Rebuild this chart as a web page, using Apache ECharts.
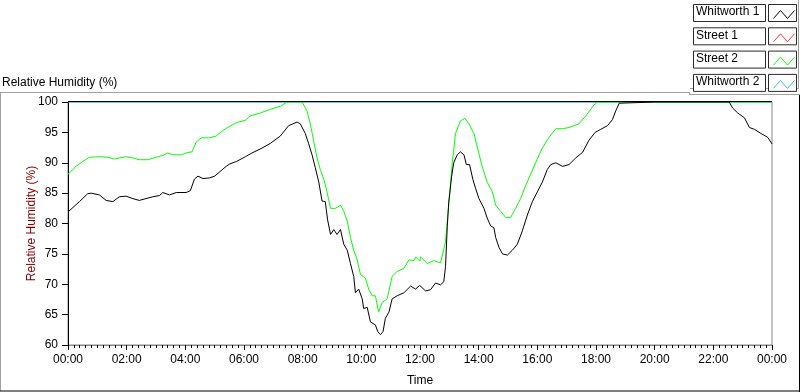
<!DOCTYPE html>
<html><head><meta charset="utf-8">
<script src="https://cdn.jsdelivr.net/npm/echarts@6/dist/echarts.min.js"></script>
<style>html,body{margin:0;padding:0;background:#fff}#c{width:800px;height:392px}</style>
</head><body><div id="c"></div>
<script>
// ---- data (time in hours, relative humidity %) ----
const seriesNames = ['Whitworth 1', 'Street 1', 'Street 2', 'Whitworth 2'];
const seriesColors = ['#000000', '#ff3a3a', '#00ff00', '#3cb8ff'];
const xTickLabels = ['00:00','02:00','04:00','06:00','08:00','10:00','12:00','14:00','16:00','18:00','20:00','22:00','00:00'];
const yTickValues = [60, 65, 70, 75, 80, 85, 90, 95, 100];

const whitworth1 = [
  [0,81.9],[0.04,82.2],[0.39,83.6],[0.67,84.9],[0.79,85.0],[1.07,84.7],[1.30,83.8],[1.53,83.6],[1.75,84.4],[1.98,84.5],
  [2.21,84.1],[2.43,83.8],[2.66,84.1],[2.89,84.4],[3.12,84.6],[3.23,85.1],[3.46,84.7],[3.69,85.1],[4.03,85.1],[4.17,85.4],
  [4.31,87.3],[4.43,87.8],[4.60,87.4],[4.82,87.5],[5.00,87.8],[5.17,88.5],[5.39,89.4],[5.51,89.8],[5.74,90.2],[6.05,91.0],
  [6.27,91.6],[6.61,92.4],[6.90,93.2],[7.24,94.4],[7.52,96.1],[7.81,96.7],[7.92,96.4],[8.09,94.8],[8.20,93.2],[8.32,91.3],
  [8.43,89.2],[8.55,86.8],[8.66,83.7],[8.77,83.6],[8.85,80.6],[8.95,78.2],[9.06,79.0],[9.17,78.2],[9.29,79.0],[9.40,76.6],
  [9.52,75.6],[9.63,73.4],[9.74,71.3],[9.80,68.6],[9.91,69.2],[10.03,67.6],[10.08,66.0],[10.20,66.2],[10.31,63.8],[10.48,63.3],
  [10.56,62.2],[10.65,61.7],[10.74,62.2],[10.82,64.4],[10.94,65.4],[11.05,67.6],[11.22,68.1],[11.45,68.6],[11.68,69.7],[11.85,69.2],
  [11.99,69.8],[12.19,68.9],[12.36,69.1],[12.53,70.2],[12.70,69.9],[12.81,70.4],[12.87,72.9],[12.93,79.5],[12.98,83.5],[13.08,87.8],
  [13.15,90.0],[13.27,91.3],[13.38,91.8],[13.50,91.3],[13.58,89.7],[13.69,89.7],[13.80,87.3],[13.90,85.7],[14.01,84.1],[14.18,82.5],
  [14.29,80.9],[14.41,79.6],[14.52,79.3],[14.58,77.7],[14.69,76.1],[14.81,75.0],[14.98,74.8],[15.15,75.6],[15.32,76.6],[15.49,78.8],
  [15.66,81.4],[15.83,83.6],[16.00,85.2],[16.17,86.8],[16.34,88.9],[16.46,89.7],[16.63,90.0],[16.86,89.4],[17.08,89.7],[17.31,90.8],
  [17.54,91.7],[17.76,93.7],[17.97,95.0],[18.16,95.5],[18.39,96.1],[18.56,97.1],[18.67,98.5],[18.79,99.8],[18.85,100],[20,100],
  [21,100],[22,100],[22.54,100],[22.66,99.0],[22.83,98.2],[23.06,97.4],[23.23,95.8],[23.40,95.5],[23.63,94.8],[23.85,94.2],[24,93.1]
];
const street1 = [];
const street2 = [
  [0,88.1],[0.27,89.4],[0.50,90.2],[0.73,90.9],[1.07,91.0],[1.36,90.9],[1.58,90.6],[1.75,90.8],[1.98,91.0],[2.21,90.8],
  [2.43,90.5],[2.72,90.5],[3.00,90.9],[3.23,91.2],[3.40,91.6],[3.57,91.3],[3.86,91.3],[4.09,91.7],[4.23,91.8],[4.37,93.4],
  [4.54,94.1],[4.82,94.1],[5.05,94.4],[5.28,95.3],[5.51,96.0],[5.74,96.6],[6.05,97.0],[6.21,97.7],[6.56,98.2],[6.90,98.8],
  [7.24,99.3],[7.47,100],[7.98,100],[8.15,98.5],[8.26,96.4],[8.37,93.7],[8.49,90.8],[8.60,88.9],[8.72,87.3],[8.83,85.2],
  [8.95,82.5],[9.12,82.5],[9.29,83.0],[9.40,82.0],[9.52,80.4],[9.63,77.7],[9.74,75.6],[9.86,74.0],[9.97,71.6],[10.14,71.0],
  [10.25,69.2],[10.37,68.1],[10.48,68.1],[10.59,65.4],[10.71,67.0],[10.88,67.6],[11.05,71.3],[11.22,72.1],[11.45,72.6],[11.62,74.0],
  [11.79,73.9],[11.86,74.5],[11.99,73.8],[12.02,74.5],[12.25,73.4],[12.47,73.9],[12.70,73.5],[12.76,73.7],[12.87,77.0],[12.98,83.1],
  [13.10,90.0],[13.21,94.8],[13.38,96.9],[13.53,97.3],[13.67,96.4],[13.84,94.8],[13.95,92.6],[14.12,89.4],[14.29,86.8],[14.47,85.2],
  [14.58,83.0],[14.75,82.0],[14.92,81.0],[15.09,81.0],[15.26,82.5],[15.43,84.1],[15.60,86.2],[15.77,88.1],[15.94,90.0],[16.17,92.4],
  [16.40,94.2],[16.63,95.6],[16.86,95.6],[17.08,95.8],[17.42,96.4],[17.65,97.7],[17.93,99.5],[18.05,100],[21,100],[24,100]
];
const whitworth2 = [[0,100],[12,100],[24,100]];
const seriesData = [whitworth1, street1, street2, whitworth2];

// ---- chart ----
const FONT = 'Liberation Sans';
const drawOrder = [1, 3, 2, 0]; // blue under green under black
const series = drawOrder.map(i => ({
  name: seriesNames[i],
  type: 'line',
  data: seriesData[i],
  showSymbol: false,
  symbol: 'none',
  smooth: false,
  animation: false,
  lineStyle: { color: seriesColors[i], width: 1 },
  itemStyle: { color: seriesColors[i] },
  z: 2 + drawOrder.indexOf(i)
}));

// legend drawn as boxes: text box + line-sample box
const legendGraphics = [];
seriesNames.forEach((name, i) => {
  const top = 4 + i * 23.3;
  legendGraphics.push({
    type: 'rect', left: 693, top: top,
    shape: { width: 72, height: 17 },
    style: { fill: '#fff', stroke: '#2b2b2b', lineWidth: 1 }, silent: true
  });
  legendGraphics.push({
    type: 'text', left: 696, top: top + 2,
    style: { text: name, fill: '#000', font: '12px "' + FONT + '"' }, silent: true
  });
  legendGraphics.push({
    type: 'rect', left: 768, top: top,
    shape: { width: 28, height: 17 },
    style: { fill: '#fff', stroke: '#2b2b2b', lineWidth: 1 }, silent: true
  });
  legendGraphics.push({
    type: 'polyline', left: 771, top: top + 4,
    shape: { points: [[0, 9], [7, 1], [14, 9], [21, 1]] },
    style: { stroke: seriesColors[i], lineWidth: 1, fill: null }, silent: true
  });
});

const frame = [
  { type: 'line', shape: { x1: 0, y1: 92.5, x2: 690, y2: 92.5 }, style: { stroke: '#a0a0a0', lineWidth: 1 }, silent: true },
  { type: 'line', shape: { x1: 689.5, y1: 92.5, x2: 689.5, y2: 95 }, style: { stroke: '#a0a0a0', lineWidth: 1 }, silent: true },
  { type: 'line', shape: { x1: 690, y1: 94.5, x2: 800, y2: 94.5 }, style: { stroke: '#a0a0a0', lineWidth: 1 }, silent: true },
  { type: 'line', shape: { x1: 690, y1: 88.5, x2: 799, y2: 88.5 }, style: { stroke: '#a0a0a0', lineWidth: 1 }, silent: true },
  { type: 'line', shape: { x1: 798.5, y1: 0, x2: 798.5, y2: 89 }, style: { stroke: '#a0a0a0', lineWidth: 1 }, silent: true },
  { type: 'line', shape: { x1: 0.5, y1: 93, x2: 0.5, y2: 391 }, style: { stroke: '#a0a0a0', lineWidth: 1 }, silent: true },
  { type: 'line', shape: { x1: 0, y1: 391, x2: 800, y2: 391 }, style: { stroke: '#000', lineWidth: 1 }, silent: true },
  { type: 'line', shape: { x1: 799.5, y1: 95, x2: 799.5, y2: 392 }, style: { stroke: '#000', lineWidth: 1 }, silent: true },
  { type: 'line', shape: { x1: 68, y1: 101.5, x2: 772, y2: 101.5 }, style: { stroke: '#000', lineWidth: 1 }, silent: true, z: 10 },
  { type: 'text', left: 2, top: 77, style: { text: 'Relative Humidity (%)', fill: '#000', font: '12px "' + FONT + '"' }, silent: true }
];

const chart = echarts.init(document.getElementById('c'), null, { renderer: 'canvas' });
chart.setOption({
  backgroundColor: '#fff',
  animation: false,
  textStyle: { fontFamily: FONT },
  grid: { left: 68, right: 28, top: 102, bottom: 40, show: true, borderColor: '#888', borderWidth: 1, backgroundColor: '#fff' },
  xAxis: {
    type: 'value', min: 0, max: 24, interval: 2,
    name: 'Time', nameLocation: 'middle', nameGap: 30, nameMoveOverlap: false,
    nameTextStyle: { color: '#000', fontSize: 12, fontFamily: FONT },
    axisLine: { show: true, lineStyle: { color: '#888', width: 1 } },
    axisTick: { show: true, length: 5, lineStyle: { color: '#000' } },
    minorTick: { show: true, splitNumber: 10, length: 3, lineStyle: { color: '#000' } },
    axisLabel: { color: '#000', fontSize: 12, fontFamily: FONT, margin: 9,
      formatter: v => xTickLabels[Math.round(v / 2)] },
    splitLine: { show: false }
  },
  yAxis: {
    type: 'value', min: yTickValues[0], max: yTickValues[yTickValues.length - 1], interval: 5,
    name: 'Relative Humidity (%)', nameLocation: 'middle', nameGap: 30, nameRotate: 90, nameMoveOverlap: false,
    nameTextStyle: { color: '#800000', fontSize: 12, fontFamily: FONT },
    axisLine: { show: true, lineStyle: { color: '#000', width: 1 } },
    axisTick: { show: true, length: 6, lineStyle: { color: '#000' } },
    axisLabel: { color: '#000', fontSize: 12, fontFamily: FONT, margin: 10 },
    splitLine: { show: false }
  },
  graphic: frame.concat(legendGraphics),
  series: series
});
</script>
</body></html>
